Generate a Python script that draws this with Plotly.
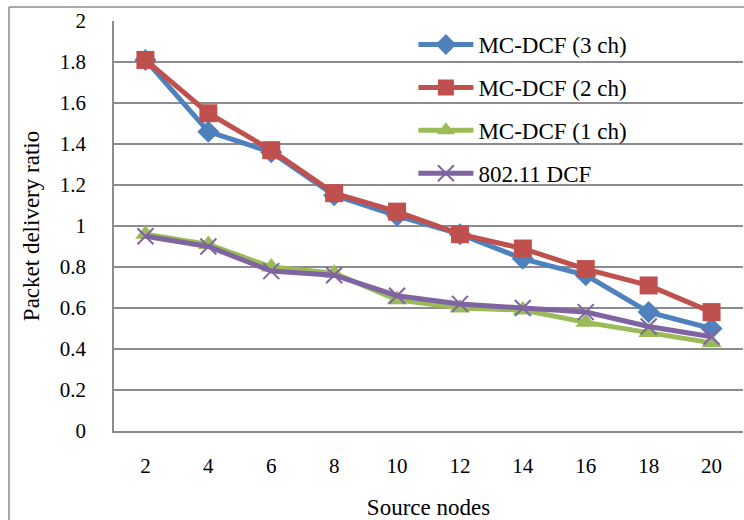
import plotly.graph_objects as go

# Number of source nodes (x categories)
source_nodes = ["2", "4", "6", "8", "10", "12", "14", "16", "18", "20"]

# Packet delivery ratio per scheme
mc_dcf_3ch = [1.81, 1.46, 1.36, 1.15, 1.05, 0.96, 0.84, 0.76, 0.58, 0.50]
mc_dcf_2ch = [1.81, 1.55, 1.37, 1.16, 1.07, 0.96, 0.89, 0.79, 0.71, 0.58]
mc_dcf_1ch = [0.96, 0.91, 0.80, 0.77, 0.64, 0.60, 0.59, 0.53, 0.48, 0.43]
dcf_80211 = [0.95, 0.90, 0.78, 0.76, 0.66, 0.62, 0.60, 0.58, 0.51, 0.46]

FONT = "Times New Roman, Liberation Serif, serif"
GRID = "#8c8c8c"

series = [
    ("MC-DCF (3 ch)", mc_dcf_3ch, "#4F81BD", dict(symbol="diamond", size=17)),
    ("MC-DCF (2 ch)", mc_dcf_2ch, "#C0504D", dict(symbol="square", size=18)),
    ("MC-DCF (1 ch)", mc_dcf_1ch, "#9BBB59", dict(symbol="triangle-up", size=18)),
    ("802.11 DCF", dcf_80211, "#8064A2", dict(symbol="x-thin", size=16)),
]

fig = go.Figure()
for i, (name, values, color, mk) in enumerate(series):
    marker = dict(color=color, **mk)
    if mk["symbol"] == "x-thin":
        marker["line"] = dict(color=color, width=2)
    fig.add_trace(go.Scatter(
        x=source_nodes, y=values, name=name, mode="lines+markers",
        line=dict(color=color, width=5),
        marker=marker,
        legendgroup=f"g{i}",
    ))

# Outer chart frame (left and top edges visible)
fig.add_shape(type="line", xref="paper", yref="paper",
              x0=-0.167, x1=1.2, y0=1.034, y1=1.034,
              line=dict(color=GRID, width=1.5))
fig.add_shape(type="line", xref="paper", yref="paper",
              x0=-0.167, x1=-0.167, y0=1.034, y1=-0.3,
              line=dict(color=GRID, width=1.5))

fig.update_layout(
    width=744, height=520,
    margin=dict(l=114, r=1, t=21, b=89),
    paper_bgcolor="white", plot_bgcolor="white",
    font=dict(family=FONT, size=22, color="black"),
    showlegend=True,
    legend=dict(
        x=0.476, y=0.995, xanchor="left", yanchor="top",
        bgcolor="rgba(0,0,0,0)", font=dict(family=FONT, size=23, color="black"),
        itemwidth=55, tracegroupgap=10,
    ),
    xaxis=dict(
        type="category", range=[-0.5, 9.5],
        showline=True, linecolor=GRID, linewidth=1.5,
        showgrid=False, ticks="", tickfont=dict(family=FONT, size=21),
        ticklabelstandoff=15,
        title=dict(text="Source nodes", font=dict(family=FONT, size=23), standoff=24),
    ),
    yaxis=dict(
        range=[0, 2], dtick=0.2, tick0=0,
        showline=True, linecolor=GRID, linewidth=1.5,
        showgrid=True, gridcolor=GRID, gridwidth=1.5,
        zeroline=False, ticks="", tickfont=dict(family=FONT, size=21),
        ticklabelstandoff=22,
        title=dict(text="Packet delivery ratio", font=dict(family=FONT, size=23), standoff=14),
    ),
)

fig.write_html("out.html")
